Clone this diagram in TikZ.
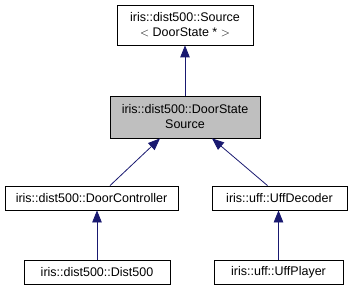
\documentclass[tikz,border=0pt]{standalone}
\usepackage{fontspec}
\setmainfont{Liberation Sans}
\usetikzlibrary{arrows.meta}

\definecolor{edgeblue}{RGB}{25,25,112}
\definecolor{curgrey}{RGB}{191,191,191}

\tikzset{
  classbox/.style={draw=black, line width=0.8pt, fill=white, align=center,
    font=\fontsize{12.5}{15}\selectfont, inner sep=0pt},
  current/.style={classbox, fill=curgrey},
  inherit/.style={edgeblue, line width=0.8pt, -{Triangle[length=12pt,width=9.5pt]}}
}

\begin{document}
\begin{tikzpicture}[x=1pt, y=-1pt]
  \useasboundingbox (0,0) rectangle (355,291);

  % base template
  \node[classbox, minimum width=136pt, minimum height=40pt] (src) at (185,25)
    {iris::dist500::Source\\$<$ DoorState * $>$};

  % class of interest
  \node[current, minimum width=150pt, minimum height=42pt] (dss) at (185,117)
    {iris::dist500::DoorState\\Source};

  % derived classes
  \node[classbox, minimum width=173pt, minimum height=24pt] (dc) at (91.5,198)
    {iris::dist500::DoorController};
  \node[classbox, minimum width=135pt, minimum height=24pt] (ud) at (279.5,198)
    {iris::uff::UffDecoder};
  \node[classbox, minimum width=146pt, minimum height=24pt] (d5) at (97,272)
    {iris::dist500::Dist500};
  \node[classbox, minimum width=129pt, minimum height=24pt] (up) at (278.5,272)
    {iris::uff::UffPlayer};

  % inheritance edges
  \draw[inherit] (dss.north) -- (src.south);
  \draw[inherit] ([xshift=18.5pt]dc.north) -- ([xshift=-25pt]dss.south);
  \draw[inherit] ([xshift=-12pt]ud.north) -- ([xshift=27pt]dss.south);
  \draw[inherit] (d5.north) -- (d5.north |- dc.south);
  \draw[inherit] (up.north) -- (up.north |- ud.south);
\end{tikzpicture}
\end{document}
